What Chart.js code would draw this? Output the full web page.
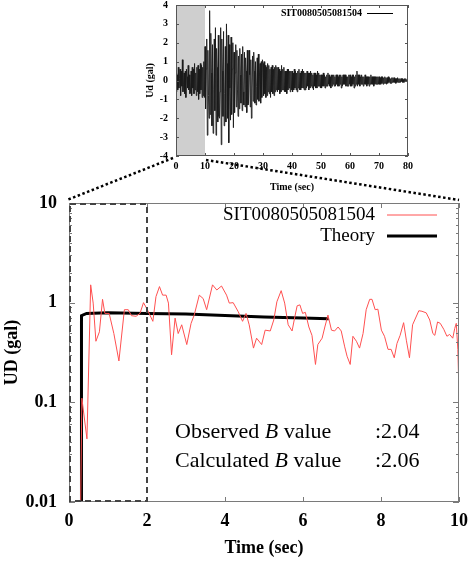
<!DOCTYPE html>
<html><head><meta charset="utf-8">
<script src="https://cdn.jsdelivr.net/npm/chart.js@4/dist/chart.umd.min.js"></script>
<style>
html,body{margin:0;padding:0;background:#fff;}
#wrap{position:relative;width:472px;height:562px;overflow:hidden;}
#main{position:absolute;left:0;top:0;}
#inset{position:absolute;left:130px;top:0;}
</style></head><body>
<div id="wrap">
<canvas id="main" width="472" height="562" style="width:472px;height:562px"></canvas>
<canvas id="inset" width="290" height="195" style="width:290px;height:195px"></canvas>
</div>
<script>
// ---------- data ----------
const stationName = 'SIT0080505081504';
const obsTime = [0.30,0.33,0.46,0.556,0.62,0.69,0.78,0.86,0.92,1.03,1.15,1.28,1.42,1.52,1.60,1.72,1.82,1.91,2.01,2.15,2.23,2.32,2.40,2.49,2.55,2.63,2.72,2.80,2.89,3.02,3.13,3.21,3.34,3.44,3.53,3.68,3.79,3.91,4.04,4.11,4.21,4.34,4.45,4.54,4.62,4.73,4.81,4.94,5.03,5.16,5.25,5.33,5.44,5.53,5.62,5.72,5.79,5.85,5.92,5.99,6.06,6.15,6.23,6.32,6.38,6.49,6.56,6.64,6.73,6.81,6.90,6.98,7.07,7.13,7.21,7.28,7.37,7.45,7.54,7.62,7.71,7.77,7.85,7.92,8.01,8.09,8.18,8.26,8.34,8.41,8.49,8.58,8.65,8.73,8.81,8.97,9.05,9.16,9.25,9.33,9.38,9.45,9.52,9.61,9.69,9.76,9.84,9.89,9.93,9.97,9.99];
const obsUD = [0.010,0.11,0.043,1.51,0.99,0.41,0.51,1.08,0.78,0.78,0.49,0.26,0.85,0.85,0.74,0.73,0.78,1.00,0.85,0.65,1.15,1.45,1.19,1.19,0.99,0.30,0.70,0.49,0.60,0.38,0.62,0.75,1.19,1.10,0.85,1.51,1.34,1.47,1.19,0.99,1.00,0.81,0.65,0.78,0.60,0.35,0.44,0.38,0.53,0.52,0.67,1.02,1.32,0.99,0.60,0.52,0.72,0.93,0.95,0.78,0.80,0.57,0.47,0.24,0.38,0.44,0.57,0.75,0.53,0.52,0.57,0.52,0.36,0.29,0.24,0.46,0.41,0.35,0.49,0.85,1.08,1.08,0.85,0.86,0.53,0.46,0.34,0.34,0.28,0.39,0.47,0.63,0.42,0.28,0.60,0.83,0.82,0.79,0.67,0.49,0.47,0.64,0.62,0.54,0.46,0.48,0.44,0.55,0.62,0.34,0.17];
const theoryTime = [0.32,0.32,0.45,1,2,3,4,5,6,6.66];
const theoryUD = [0.01,0.74,0.78,0.79,0.78,0.77,0.745,0.72,0.70,0.69];
const mainXTicks = [0,2,4,6,8,10];
const mainYTicks = [0.01,0.1,1,10];
const mainYLabels = ['0.01','0.1','1','10'];
const zoomWindow = [0,2];          // seconds shown in the dashed box
const bValueLines = [['Observed ','B',' value',':2.04'],['Calculated ','B',' value',':2.06']];

// inset seismogram, sampled every 0.2 s from 0 to 80 s (gal), rows of 5 s
const waveStep = 0.2;
const waveUd = [
 0.4,-0.6,0.3,-0.5,0.7,-0.4,0.1,0.6,-0.8,0.5,-0.3,1.1,-0.6,-0.2,0.4,-0.7,0.5,-0.9,0.6,0.2,-0.4,0.8,-0.5,0.3,-0.7,
 -0.6,0.5,-0.8,0.7,-0.4,0.6,-0.7,0.9,-0.5,0.4,-0.8,0.7,-0.6,0.8,-1.0,0.6,-0.7,0.9,-0.5,0.8,-0.9,0.7,-0.8,1.0,-0.9,
 1.8,-1.5,0.6,2.2,-2.9,1.6,-0.8,-2.0,3.7,-1.8,2.5,0.4,-2.4,1.9,-2.8,-0.5,2.2,-1.6,2.8,-2.9,1.7,0.7,-2.2,2.4,-1.9,
 -2.0,-0.6,2.8,-3.4,2.2,0.5,-1.9,2.6,-2.4,-0.7,1.8,-2.2,3.0,0.9,-2.0,2.4,-3.3,1.9,-0.4,-2.1,2.3,-1.8,0.6,2.0,-2.5,
 1.5,-1.7,0.4,1.9,-1.4,1.6,-0.5,-1.9,1.3,-1.5,1.7,0.3,-1.2,1.4,-1.6,1.8,-0.6,-1.3,1.5,-1.4,1.2,0.5,-1.7,1.6,-1.3,
 -1.2,1.6,0.3,-1.4,1.1,-2.0,-0.4,1.3,-1.1,1.5,0.5,-1.2,1.0,-1.3,-0.3,1.2,-1.0,1.4,-1.1,0.4,0.9,-1.2,1.0,-0.9,1.1,
 0.9,-0.8,1.0,-0.7,0.8,-0.9,0.7,-0.8,0.9,-0.6,0.8,-0.7,0.6,-0.9,0.7,-0.6,0.8,-0.7,0.6,-0.8,0.7,-0.6,0.8,-0.5,0.7,
 -0.6,0.7,-0.5,0.6,-0.7,0.5,-0.6,0.8,-0.5,0.6,-0.5,0.7,-0.6,0.5,-0.6,0.5,-0.7,0.6,-0.5,0.6,-0.4,0.5,-0.6,0.5,-0.5,
 0.5,-0.6,0.4,-0.5,0.6,-0.4,0.5,-0.5,0.4,-0.6,0.5,-0.4,0.6,-0.5,0.4,-0.5,0.5,-0.4,0.6,-0.4,0.5,-0.5,0.4,-0.5,0.4,
 -0.4,0.5,-0.3,0.4,-0.5,0.4,-0.4,0.5,-0.3,0.4,-0.4,0.3,-0.5,0.4,-0.3,0.4,-0.4,0.3,-0.4,0.5,-0.3,0.4,-0.3,0.3,-0.4,
 0.3,-0.4,0.3,-0.3,0.4,-0.3,0.3,-0.4,0.2,-0.3,0.3,-0.3,0.4,-0.2,0.3,-0.3,0.2,-0.4,0.3,-0.3,0.3,-0.2,0.3,-0.3,0.2,
 -0.3,0.3,-0.2,0.3,-0.3,0.2,-0.3,0.3,-0.2,0.3,-0.4,0.2,-0.3,0.3,-0.2,0.3,-0.2,0.3,-0.3,0.2,-0.3,0.2,-0.3,0.3,-0.2,
 0.3,-0.3,0.2,-0.3,0.3,-0.2,0.3,-0.4,0.2,-0.3,0.3,-0.2,0.5,-0.3,0.3,-0.2,0.3,-0.3,0.2,-0.2,0.3,-0.2,0.2,-0.3,0.2,
 -0.2,0.3,-0.2,0.2,-0.3,0.2,-0.2,0.2,-0.3,0.2,-0.2,0.3,-0.2,0.2,-0.2,0.2,-0.3,0.2,-0.2,0.2,-0.2,0.2,-0.2,0.2,-0.2,
 0.2,-0.2,0.15,-0.2,0.2,-0.15,0.2,-0.2,0.15,-0.15,0.2,-0.15,0.15,-0.2,0.15,-0.15,0.2,-0.1,0.15,-0.15,0.1,-0.15,0.15,-0.1,0.15,
 -0.1,0.15,-0.1,0.1,-0.15,0.1,-0.1,0.15,-0.1,0.1,-0.1,0.1,-0.1,0.1,-0.05,0.1,-0.1,0.05,-0.1,0.1,-0.05,0.1,-0.05,0.05,-0.05,
 0.0];
const insetXTicks = [0,10,20,30,40,50,60,70,80];
const insetYTicks = [-4,-3,-2,-1,0,1,2,3,4];
const shadedWindow = [0,10];

Chart.defaults.font.family = '"Liberation Serif", "Times New Roman", serif';
Chart.defaults.color = '#000';
Chart.defaults.animation = false;

function seg(ctx,x1,y1,x2,y2){ctx.beginPath();ctx.moveTo(x1,y1);ctx.lineTo(x2,y2);ctx.stroke();}

// ---------- inset chart ----------
const insetDeco = {
  id:'insetDeco',
  beforeDatasetsDraw(chart){
    const {ctx, chartArea:a, scales:{x}} = chart;
    ctx.save();
    ctx.fillStyle = '#cfcfcf';
    const x0 = x.getPixelForValue(shadedWindow[0]), x1 = x.getPixelForValue(shadedWindow[1]);
    ctx.fillRect(x0, a.top, x1-x0, a.height);
    ctx.restore();
  },
  afterDraw(chart){
    const {ctx, chartArea:a, scales:{x,y}} = chart;
    ctx.save();
    ctx.strokeStyle = '#555'; ctx.lineWidth = 1;
    ctx.strokeRect(a.left+0.5, a.top+0.5, a.width-1, a.height-1);
    insetXTicks.forEach(v=>{const p=Math.round(x.getPixelForValue(v))+0.5; seg(ctx,p,a.bottom,p,a.bottom-3); seg(ctx,p,a.top,p,a.top+3);});
    insetYTicks.forEach(v=>{const p=Math.round(y.getPixelForValue(v))+0.5; seg(ctx,a.left,p,a.left+3,p); seg(ctx,a.right,p,a.right-3,p);});
    // legend
    const ds = chart.data.datasets[0];
    ctx.font = 'bold 10px "Liberation Serif"';
    ctx.fillStyle = '#000'; ctx.textAlign = 'right'; ctx.textBaseline = 'middle';
    const ly = a.top + 8;
    ctx.fillText(ds.label, a.right - 46, ly);
    ctx.strokeStyle = '#000'; ctx.lineWidth = 1;
    seg(ctx, a.right-41, ly+0.5, a.right-15, ly+0.5);
    ctx.restore();
  }
};
const insetChart = new Chart(document.getElementById('inset'), {
  type:'line',
  data:{datasets:[{label:stationName, data: waveUd.map((v,i)=>({x:i*waveStep, y:v})), borderColor:'#1a1a1a', borderWidth:0.9, pointRadius:0, tension:0}]},
  options:{
    responsive:false, animation:false,
    layout:{padding:{top:5,right:12,left:0,bottom:0}},
    plugins:{legend:{display:false}, tooltip:{enabled:false}},
    scales:{
      x:{type:'linear', min:0, max:80,
         afterBuildTicks:s=>{s.ticks = insetXTicks.map(v=>({value:v}));},
         grid:{display:false, drawTicks:false}, border:{display:false},
         ticks:{font:{size:10, weight:'bold'}, padding:4, maxRotation:0},
         title:{display:true, text:'Time (sec)', font:{size:10, weight:'bold'}, padding:{top:0,bottom:2}},
         afterFit:s=>{s.height = 39; s.paddingLeft = 0; s.paddingRight = 0;}},
      y:{type:'linear', min:-4, max:4,
         afterBuildTicks:s=>{s.ticks = insetYTicks.map(v=>({value:v}));},
         grid:{display:false, drawTicks:false}, border:{display:false},
         ticks:{font:{size:10, weight:'bold'}, padding:8},
         title:{display:true, text:'Ud (gal)', font:{size:10, weight:'bold'}, padding:{top:14,bottom:0}},
         afterFit:s=>{s.width = 46; s.paddingTop = 0; s.paddingBottom = 0;}}
    }
  },
  plugins:[insetDeco]
});

// ---------- main chart ----------
const insetLeft = 130, insetTop = 0;
const mainDeco = {
  id:'mainDeco',
  afterDraw(chart){
    const {ctx, chartArea:a, scales:{x,y}} = chart;
    ctx.save();
    // frame
    ctx.strokeStyle = '#7a7a7a'; ctx.lineWidth = 1;
    ctx.strokeRect(a.left+0.5, a.top+0.5, a.width-1, a.height-1);
    // inner ticks
    mainXTicks.forEach(v=>{const p=Math.round(x.getPixelForValue(v))+0.5; seg(ctx,p,a.bottom,p,a.bottom-5); seg(ctx,p,a.top,p,a.top+5);});
    for (let k=-2; k<=0; k++) for (let m=1; m<=9; m++){
      const v = m*Math.pow(10,k); const p = Math.round(y.getPixelForValue(v))+0.5; const len = m===1?6:3;
      seg(ctx,a.left,p,a.left+len,p); seg(ctx,a.right,p,a.right-len,p);
    }
    {const p=Math.round(y.getPixelForValue(10))+0.5; seg(ctx,a.left,p,a.left+6,p);}
    // dashed zoom window
    ctx.strokeStyle = '#444'; ctx.lineWidth = 2; ctx.setLineDash([6,4]);
    const bx0 = x.getPixelForValue(zoomWindow[0])+1, bx1 = x.getPixelForValue(zoomWindow[1]);
    const by0 = y.getPixelForValue(10)+1, by1 = y.getPixelForValue(0.01)-1;
    ctx.strokeRect(bx0, by0, bx1-bx0, by1-by0);
    // dotted connector lines from inset
    const ix = insetChart.scales.x, iy = insetChart.scales.y;
    ctx.strokeStyle = '#000'; ctx.lineWidth = 2.5; ctx.setLineDash([2.5,2.5]);
    const iyB = insetTop + iy.getPixelForValue(-4) + 2;
    seg(ctx, insetLeft + ix.getPixelForValue(shadedWindow[0]) - 3, iyB, x.getPixelForValue(zoomWindow[0]) - 2, y.getPixelForValue(10) - 3);
    seg(ctx, insetLeft + ix.getPixelForValue(shadedWindow[1]) + 1, iyB + 2, x.getPixelForValue(10), y.getPixelForValue(10) - 3);
    ctx.setLineDash([]);
    // legend
    ctx.font = '19px "Liberation Serif"'; ctx.fillStyle = '#000';
    ctx.textAlign = 'right'; ctx.textBaseline = 'middle';
    chart.data.datasets.forEach((ds,i)=>{
      const ly = a.top + 12 + i*21;
      ctx.fillText(ds.label, a.right - 84, ly);
      ctx.strokeStyle = ds.borderColor; ctx.lineWidth = ds.borderWidth;
      seg(ctx, a.right - 72, ly, a.right - 22, ly);
    });
    // B-value annotation
    ctx.textAlign = 'left'; ctx.textBaseline = 'alphabetic';
    bValueLines.forEach((ln,i)=>{
      let px = a.left + 106; const py = a.bottom - 64 + i*29;
      [ln[0],ln[1],ln[2]].forEach((t,j)=>{
        ctx.font = (j===1?'italic ':'') + '22px "Liberation Serif"';
        ctx.fillText(t, px, py); px += ctx.measureText(t).width;
      });
      ctx.font = '22px "Liberation Serif"';
      ctx.fillText(ln[3], a.left + 306, py);
    });
    ctx.restore();
  }
};
new Chart(document.getElementById('main'), {
  type:'line',
  data:{datasets:[
    {label:stationName, data: obsTime.map((t,i)=>({x:t, y:obsUD[i]})), borderColor:'#ff5050', borderWidth:1, pointRadius:0, tension:0},
    {label:'Theory', data: theoryTime.map((t,i)=>({x:t, y:theoryUD[i]})), borderColor:'#000', borderWidth:3, pointRadius:0, tension:0}
  ]},
  options:{
    responsive:false, animation:false,
    layout:{padding:{top:203,right:13,left:0,bottom:0}},
    plugins:{legend:{display:false}, tooltip:{enabled:false}},
    scales:{
      x:{type:'linear', min:0, max:10,
         afterBuildTicks:s=>{s.ticks = mainXTicks.map(v=>({value:v}));},
         grid:{display:false, drawTicks:false}, border:{display:false},
         ticks:{font:{size:18, weight:'bold'}, padding:9, maxRotation:0},
         title:{display:true, text:'Time (sec)', font:{size:18, weight:'bold'}, padding:{top:0,bottom:3}},
         afterFit:s=>{s.height = 60; s.paddingLeft = 0; s.paddingRight = 0;}},
      y:{type:'logarithmic', min:0.01, max:10,
         afterBuildTicks:s=>{s.ticks = mainYTicks.map(v=>({value:v}));},
         grid:{display:false, drawTicks:false}, border:{display:false},
         ticks:{font:{size:18, weight:'bold'}, padding:12, callback:(v,i)=>mainYLabels[i]},
         title:{display:true, text:'UD (gal)', font:{size:18, weight:'bold'}, padding:{top:2,bottom:0}},
         afterFit:s=>{s.width = 69; s.paddingTop = 0; s.paddingBottom = 0;}}
    }
  },
  plugins:[mainDeco]
});
</script>
</body></html>
